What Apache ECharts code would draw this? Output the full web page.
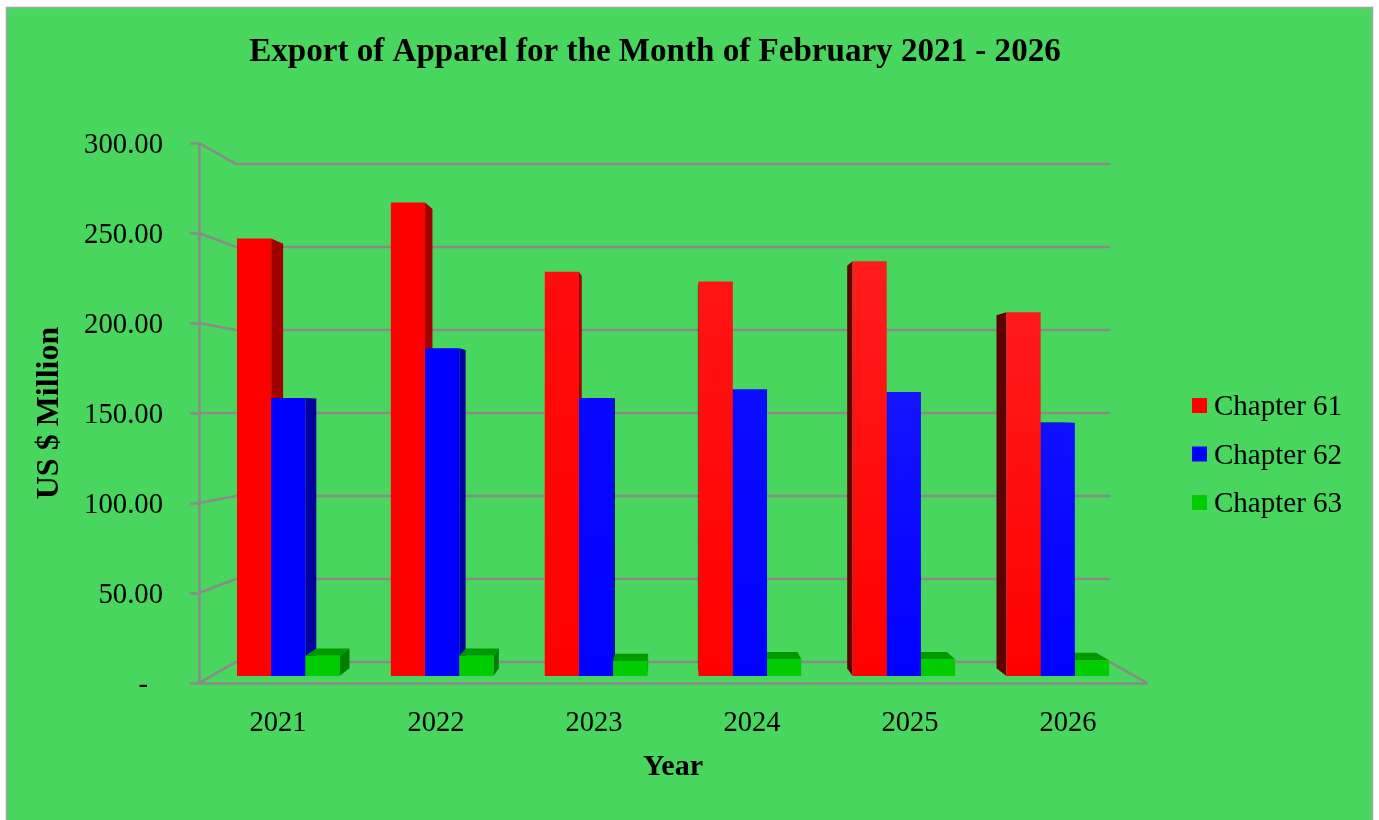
<!DOCTYPE html>
<html><head><meta charset="utf-8">
<style>html,body{margin:0;padding:0;background:#fff}#c{width:1379px;height:820px}</style>
<script src="https://cdn.jsdelivr.net/npm/echarts@6/dist/echarts.min.js"></script>
</head><body><div id="c"></div>
<script>
const years = ['2021','2022','2023','2024','2025','2026'];
const chapter61 = [249.5, 270, 230.5, 225, 236.5, 207.5];
const chapter62 = [158.5, 187, 158.5, 163.5, 162, 144.5];
const chapter63 = [11.5, 11.5, 8.5, 9.5, 9.5, 9];
const wallTicks = [0, 50, 100, 150, 200, 250, 300];
const red = {name:'Chapter 61', face:'#ff0000', right:'#a00000', left:'#5f0000', top:'#a80000',
  fadeTop:['#ff0000','#ff0000','#ff0c0c','#ff1414','#ff1c1c','#ff1a1a']};
const blue = {name:'Chapter 62', face:'#0000ff', right:'#0000a0', left:'#00005f', top:'#0000a8',
  fadeTop:['#0000ff','#0000ff','#0808ff','#0c0cff','#1414ff','#1010ff']};
const green = {name:'Chapter 63', face:'#00cc00', right:'#008000', left:'#004f00', top:'#009900',
  fadeTop:['#00cc00','#00cc00','#00cc00','#00cc00','#00cc00','#00cc00']};
const font = '"Liberation Serif"';
const FRONT = 0.974, BACK = 0.945, WALL = 0.9225, GRID = '#8a8a8a';

function vanish(cs){ return [cs.x + cs.width/2, cs.y + cs.height/2]; }
function proj(v, x, y, s){ return [v[0] + (x-v[0])*s, v[1] + (y-v[1])*s]; }

function barRenderer(style, idx){
  return function(params, api){
    const cs = params.coordSys, v = vanish(cs);
    const cat = api.value(0), val = api.value(1);
    const band = api.size([1,0])[0], w = band/4.5;
    const cx = api.coord([cat,0])[0];
    const y0 = api.coord([cat,0])[1], y1 = api.coord([cat,val])[1];
    const xl = cx - 1.5*w + idx*w, xr = xl + w;
    const base = Math.round(1000 - Math.abs((xl+xr)/2 - v[0]))*10;
    const kids = [];
    const poly = (pts, fill, z) => kids.push({type:'polygon', z2:z, shape:{points:pts}, style:{fill:fill, stroke:null}, silent:true});
    const onLeft = (xl+xr)/2 < v[0];
    const xs = onLeft ? xr : xl;
    if (onLeft ? xr < v[0]+w : xl > v[0]-w) {
      poly([proj(v,xs,y1,FRONT),proj(v,xs,y1,BACK),proj(v,xs,y0,BACK),proj(v,xs,y0,FRONT)], onLeft?style.right:style.left, base);
    }
    if (y1 > v[1]) {
      poly([proj(v,xl,y1,FRONT),proj(v,xr,y1,FRONT),proj(v,xr,y1,BACK),proj(v,xl,y1,BACK)], style.top, base+1);
    }
    poly([proj(v,xl,y1,FRONT),proj(v,xr,y1,FRONT),proj(v,xr,y0,FRONT),proj(v,xl,y0,FRONT)],
      {type:'linear',x:0,y:0,x2:0,y2:1,colorStops:[{offset:0,color:style.fadeTop[cat]},{offset:1,color:style.face}]}, base+2);
    return {type:'group', children:kids};
  };
}
function wallRenderer(params, api){
  const cs = params.coordSys, v = vanish(cs);
  const val = api.value(1), y = api.coord([0,val])[1];
  const L = cs.x, R = cs.x + cs.width;
  const a = proj(v,L,y,1), b = proj(v,L,y,WALL), c = proj(v,R,y,WALL);
  const ls = {stroke:GRID, lineWidth:2.5, fill:null};
  const kids = [
    {type:'polyline', z2:1, shape:{points:[a,b,c]}, style:ls, silent:true}
  ];
  if (val === 0) kids.push({type:'line', z2:1, shape:{x1:c[0],y1:c[1],x2:R,y2:y}, style:ls, silent:true});
  return {type:'group', children:kids};
}
const barSeries = (style, values, idx) => ({
  type:'custom', name:style.name, coordinateSystem:'cartesian2d',
  itemStyle:{color:style.face}, renderItem:barRenderer(style, idx), animation:false, silent:true,
  data:values.map((d,i)=>[i,d]), encode:{x:0,y:1}
});

const chart = echarts.init(document.getElementById('c'), null, {renderer:'canvas'});
chart.setOption({
  animation:false,
  backgroundColor:'#ffffff',
  graphic:[{type:'rect', z:-10, silent:true, shape:{x:6.5,y:7.5,width:1366,height:830},
    style:{fill:'#48d65e', stroke:'#a3a3a3', lineWidth:1.5}}],
  title:{text:'Export of Apparel for the Month of February 2021 - 2026', left:650, top:31, textAlign:'center',
    textStyle:{fontFamily:font, fontWeight:'bold', fontSize:33.1, color:'#000'}},
  legend:{data:['Chapter 61','Chapter 62','Chapter 63'], orient:'vertical', left:1187, top:388,
    icon:'rect', itemWidth:15, itemHeight:15, itemGap:19.5, selectedMode:false,
    formatter:n => '{a|' + n + '}',
    textStyle:{rich:{a:{fontFamily:font, fontSize:29, color:'#000', padding:[4,0,0,2]}}}},
  grid:{left:199, top:143, width:948, height:540, containLabel:false},
  xAxis:{type:'category', data:years, name:'Year', nameLocation:'middle', nameGap:69,
    nameTextStyle:{fontFamily:font, fontWeight:'bold', fontSize:30, color:'#000'},
    axisLine:{lineStyle:{color:GRID,width:2.5}}, axisTick:{show:false},
    axisLabel:{fontFamily:font, fontSize:28.5, color:'#000', margin:26}},
  yAxis:{type:'value', min:0, max:300, interval:50, name:'US $ Million', nameLocation:'middle', nameRotate:90, nameGap:133,
    nameTextStyle:{fontFamily:font, fontWeight:'bold', fontSize:32, color:'#000'},
    axisLine:{show:true, lineStyle:{color:GRID,width:2.5}},
    axisTick:{show:true, length:9, lineStyle:{color:GRID,width:2.5}},
    splitLine:{show:false},
    axisLabel:{fontFamily:font, fontSize:28.7, color:'#000', margin:36, padding:[4,0,0,0],
      formatter:v => v===0 ? '{z|-}' : v.toFixed(2),
      rich:{z:{fontFamily:font, fontSize:28.7, color:'#000', padding:[0,15,0,0]}}}},
  series:[
    {type:'custom', name:'wall', coordinateSystem:'cartesian2d', renderItem:wallRenderer, silent:true, animation:false,
      data:wallTicks.map(t=>[0,t]), encode:{x:0,y:1}},
    barSeries(red, chapter61, 0),
    barSeries(blue, chapter62, 1),
    barSeries(green, chapter63, 2)
  ]
});
</script></body></html>
